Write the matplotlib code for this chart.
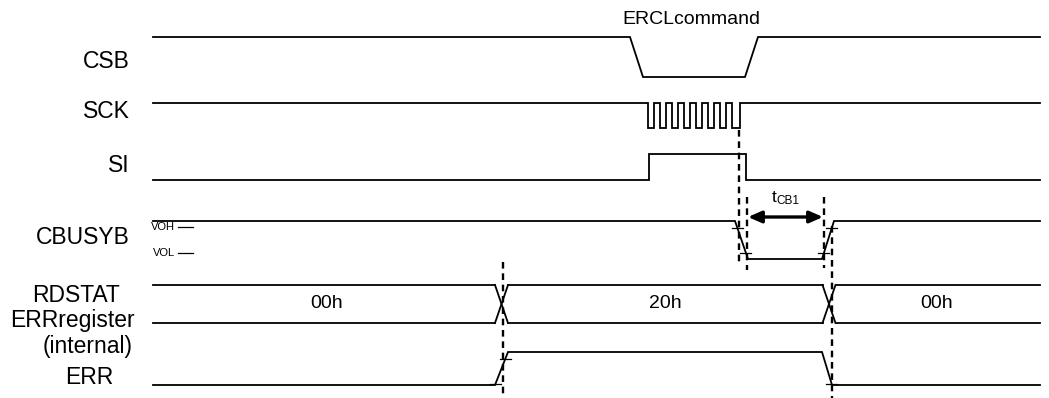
import matplotlib
matplotlib.use("Agg")
import matplotlib.pyplot as plt
import numpy as np

plt.rcParams['font.family'] = ['Liberation Sans', 'DejaVu Sans']

# ---------------- data: waveforms (time, logic level) ----------------
csb_t = [153, 630, 643, 745, 758, 1040]
csb_v = [1, 1, 0, 0, 1, 1]

sck_fall = [648, 660, 672, 684, 696, 708, 720, 732]
sck_rise = [654, 666, 678, 690, 702, 714, 726, 740]

si_t = [153, 649, 649, 746, 746, 1040]
si_v = [0, 0, 1, 1, 0, 0]

cbusyb_t = [153, 735, 748, 822, 834, 1040]
cbusyb_v = [1, 1, 0, 0, 1, 1]

bus_cross = [501.5, 829]
bus_values = ["00h", "20h", "00h"]

err_t = [153, 495, 508, 822, 832, 1040]
err_v = [0, 0, 1, 1, 0, 0]

signal_names = ["CSB", "SCK", "SI", "CBUSYB"]
bus_names = ["RDSTAT", "ERRregister", "(internal)"]
err_name = "ERR"
command_label = "ERCLcommand"
timing_label = ("t", "CB1")
level_labels = ["VOH", "VOL"]

# ---------------- layout (pixel coordinates) ----------------
W, H = 1049, 398
fig = plt.figure(figsize=(W / 100, H / 100), dpi=100)
ax = fig.add_axes([0, 0, 1, 1])
ax.set_xlim(0, W)
ax.set_ylim(H, 0)
ax.axis("off")

LW = 1.3
LBL = 16.5
VAL = 14
rows = {  # (high_y, low_y)
    "CSB": (37, 77),
    "SCK": (103, 128),
    "SI": (154, 180),
    "CBUSYB": (221, 259),
    "ERR": (352, 385),
}


def ypos(row, v):
    hi, lo = rows[row]
    return np.where(np.asarray(v) == 1, hi, lo)


def wave(row, t, v):
    ax.plot(t, ypos(row, v), color="black", lw=LW, solid_joinstyle="miter")


wave("CSB", csb_t, csb_v)

# SCK built from edges
sck_t = [153]
sck_v = [1]
for f, r in zip(sck_fall, sck_rise):
    sck_t += [f, f, r, r]
    sck_v += [1, 0, 0, 1]
sck_t.append(1040)
sck_v.append(1)
wave("SCK", sck_t, sck_v)

wave("SI", si_t, si_v)
wave("CBUSYB", cbusyb_t, cbusyb_v)
wave("ERR", err_t, err_v)

# bus
bus_top, bus_bot, half = 285, 323, 6.5
edges = [153] + bus_cross + [1040]
value_x = [327, 665, 937]
for i in range(len(edges) - 1):
    a = edges[i] + (half if i > 0 else 0)
    b = edges[i + 1] - (half if i < len(edges) - 2 else 0)
    ax.plot([a, b], [bus_top, bus_top], color="black", lw=LW)
    ax.plot([a, b], [bus_bot, bus_bot], color="black", lw=LW)
    ax.text(value_x[i], (bus_top + bus_bot) / 2, bus_values[i],
            ha="center", va="center", fontsize=VAL)
for c in bus_cross:
    ax.plot([c - half, c + half], [bus_top, bus_bot], color="black", lw=LW)
    ax.plot([c - half, c + half], [bus_bot, bus_top], color="black", lw=LW)


# threshold ticks on transitions
def tick_on_edge(t, v, row, i, ylev, w=5.5):
    y = ypos(row, v)
    x0, x1 = t[i], t[i + 1]
    y0, y1 = y[i], y[i + 1]
    x = x0 + (ylev - y0) * (x1 - x0) / (y1 - y0)
    ax.plot([x - w, x + w], [ylev, ylev], color="black", lw=0.9)


for ylev in (228, 253):
    tick_on_edge(cbusyb_t, cbusyb_v, "CBUSYB", 1, ylev)
    tick_on_edge(cbusyb_t, cbusyb_v, "CBUSYB", 3, ylev)
tick_on_edge(err_t, err_v, "ERR", 1, 359)
tick_on_edge(err_t, err_v, "ERR", 1, 384)
tick_on_edge(err_t, err_v, "ERR", 3, 384)

# dashed reference lines
dashed = [(739, 130, 264), (747, 197, 270), (824, 197, 268),
          (832, 226, 398), (503, 262, 398)]
for x, y0, y1 in dashed:
    ax.plot([x, x], [y0, y1], color="black", lw=1.7, dashes=(2.8, 2.0))

# t_CB1 arrow
ax.annotate("", xy=(748, 217), xytext=(823, 217),
            arrowprops=dict(arrowstyle="<|-|>,head_length=0.8,head_width=0.35",
                            color="black", lw=2.4, shrinkA=0, shrinkB=0))
ax.text(777, 202, timing_label[0], ha="right", va="baseline", fontsize=12.5)
ax.text(776.5, 204, timing_label[1], ha="left", va="baseline", fontsize=8.5)

# top label
ax.text(691, 20, command_label, ha="center", va="center", fontsize=VAL)

# left labels
label_pos = {"CSB": 62, "SCK": 112, "SI": 166, "CBUSYB": 237}
for name in signal_names:
    ax.text(130, label_pos[name], name, ha="right", va="center", fontsize=LBL)
for name, (xr, y) in zip(bus_names, [(120, 295), (135, 321), (133, 347)]):
    ax.text(xr, y, name, ha="right", va="center", fontsize=LBL)
ax.text(113, 377, err_name, ha="right", va="center", fontsize=LBL)

# VOH / VOL
for lab, y in zip(level_labels, (227, 253)):
    ax.text(175, y, lab, ha="right", va="center", fontsize=8)
    ax.plot([178, 193], [y, y], color="black", lw=0.9)

fig.savefig("out.png", dpi=100)
